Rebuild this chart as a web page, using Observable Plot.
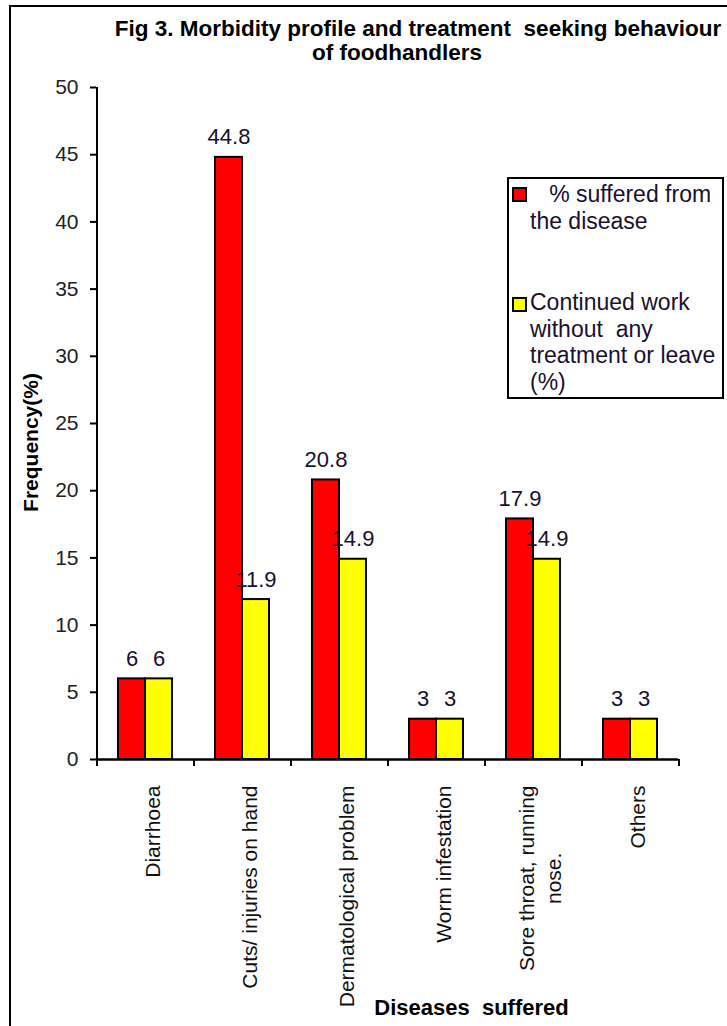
<!DOCTYPE html>
<html>
<head>
<meta charset="utf-8">
<script src="https://cdn.jsdelivr.net/npm/d3@7"></script>
<script src="https://cdn.jsdelivr.net/npm/@observablehq/plot@0.6"></script>
<style>
  html, body { margin: 0; padding: 0; background: #fff; }
  #wrap { position: relative; width: 727px; height: 1026px; overflow: hidden; background: #fff;
          font-family: "Liberation Sans", Arial, Helvetica, sans-serif; color: #000; }
  #frame { position: absolute; left: 9px; top: 5px; width: 740px; height: 1040px;
           border-left: 2px solid #000; border-top: 2px solid #000; }
  #chart { position: absolute; left: 0; top: 0; }
  .title { position: absolute; font-weight: bold; font-size: 22.5px; line-height: 26px;
           white-space: pre; transform: translateX(-50%); }
  #legend { position: absolute; left: 507px; top: 177px; width: 217px; height: 222px;
            box-sizing: border-box; border: 2px solid #000; background: #fff; }
  .sw { position: absolute; width: 15px; height: 15px; box-sizing: border-box; border: 2px solid #000; }
  .lt { position: absolute; left: 530px; font-size: 23px; line-height: 26.7px; white-space: pre; color: #1a1030; }
</style>
</head>
<body>
<div id="wrap">
  <div id="frame"></div>
  <div id="chart"></div>
</div>
<script>
// ---------- data ----------
const titleLines = ["Fig 3. Morbidity profile and treatment  seeking behaviour", "of foodhandlers"];
const categories = ["Diarrhoea", "Cuts/ injuries on hand", "Dermatological problem", "Worm infestation", "Sore throat, running\nnose.", "Others"];
const suffered  = [6, 44.8, 20.8, 3, 17.9, 3];
const continued = [6, 11.9, 14.9, 3, 14.9, 3];
const seriesNames = ["   % suffered from\nthe disease", "Continued work\nwithout  any\ntreatment or leave\n(%)"];
const seriesColors = ["#ff0000", "#ffff00"];
const yTicks = [0, 5, 10, 15, 20, 25, 30, 35, 40, 45, 50];
const yLabel = "Frequency(%)";
const xLabel = "Diseases  suffered";

// ---------- build ----------
const FONT = "'Liberation Sans', Arial, Helvetica, sans-serif";
const rows = categories.flatMap((c, i) => [
  {cat: c, s: 0, value: suffered[i]},
  {cat: c, s: 1, value: continued[i]}
]);
const rowsA = rows.filter(d => d.s === 0);
const rowsB = rows.filter(d => d.s === 1);

const W = 727, H = 1026, mL = 96, mR = 49, mT = 87, mB = 267;
const step = (W - mL - mR) / categories.length;
const half = step / 2;
const bandFrac = 54 / step;
const barW = 27;

const singleLine = categories.filter(c => !c.includes("\n"));
const multiLine = categories.filter(c => c.includes("\n"));
const cv = document.createElement("canvas").getContext("2d");
cv.font = "21px 'Liberation Sans', Arial";
const maxLineW = c => Math.max(...c.split("\n").map(s => cv.measureText(s).width));

const labelGap = 26;

const chart = Plot.plot({
  width: W, height: H,
  marginLeft: mL, marginRight: mR, marginTop: mT, marginBottom: mB,
  style: {fontFamily: FONT, background: "transparent", overflow: "visible", whiteSpace: "pre"},
  x: {domain: categories, paddingInner: 1 - bandFrac, paddingOuter: (1 - bandFrac) / 2, align: 0.5},
  y: {domain: [0, 50]},
  marks: [
    Plot.barY(rowsA, {x: "cat", y: "value", fill: seriesColors[0], stroke: "#000", strokeWidth: 2, insetRight: barW}),
    Plot.barY(rowsB, {x: "cat", y: "value", fill: seriesColors[1], stroke: "#000", strokeWidth: 2, insetLeft: barW}),
    Plot.text(rowsA, {x: "cat", y: "value", text: d => String(d.value), dx: -barW / 2, dy: -13,
      lineAnchor: "bottom", fontSize: 22, fill: "#1a1030"}),
    Plot.text(rowsB, {x: "cat", y: "value", text: d => String(d.value), dx: barW / 2, dy: -13,
      lineAnchor: "bottom", fontSize: 22, fill: "#1a1030"}),
    Plot.ruleY([0], {stroke: "#000", strokeWidth: 2.5}),
    Plot.ruleX([categories[0]], {x: d => d, dx: -half, stroke: "#000", strokeWidth: 2}),
    Plot.axisY(yTicks, {anchor: "left", tickSize: 6, tickPadding: 12, fontSize: 21, stroke: "#000",
      fill: "#222", strokeWidth: 2, label: null}),
    Plot.axisX(categories, {anchor: "bottom", tickSize: 7, strokeWidth: 2, stroke: "#000", dx: -half,
      tickFormat: () => "", label: null}),
    Plot.axisX([categories[categories.length - 1]], {anchor: "bottom", tickSize: 7, strokeWidth: 2, stroke: "#000",
      dx: half, tickFormat: () => "", label: null}),
    Plot.text(singleLine, {x: d => d, y: () => 0, rotate: -90, textAnchor: "end", lineAnchor: "middle",
      dx: 8, dy: labelGap, fontSize: 21, fill: "#111"}),
    Plot.text(multiLine, {x: d => d, y: () => 0, rotate: -90, textAnchor: "middle", lineAnchor: "middle",
      lineHeight: 1.28, dx: 5, dy: labelGap + maxLineW(multiLine[0]) / 2, fontSize: 21, fill: "#111"}),
    Plot.text([yLabel], {frameAnchor: "left", textAnchor: "middle", lineAnchor: "middle", rotate: -90,
      dx: -65, dy: 19, fontWeight: "bold", fontSize: 21, fill: "#000"}),
    Plot.text([xLabel], {frameAnchor: "bottom", textAnchor: "middle", lineAnchor: "bottom",
      dx: 84, dy: 255, fontWeight: "bold", fontSize: 22, fill: "#000"})
  ]
});
document.getElementById("chart").appendChild(chart);

// ---------- title ----------
const wrap = document.getElementById("wrap");
const titleCenters = [418, 397];
const titleTops = [16, 40];
titleLines.forEach((t, i) => {
  const d = document.createElement("div");
  d.className = "title";
  d.textContent = t;
  d.style.left = titleCenters[i] + "px";
  d.style.top = titleTops[i] + "px";
  wrap.appendChild(d);
});

// ---------- legend ----------
const legend = document.createElement("div");
legend.id = "legend";
wrap.appendChild(legend);
const swTops = [187, 297];
const txtTops = [181, 289];
seriesNames.forEach((name, i) => {
  const sw = document.createElement("div");
  sw.className = "sw";
  sw.style.left = "512px";
  sw.style.top = swTops[i] + "px";
  sw.style.background = seriesColors[i];
  wrap.appendChild(sw);
  const t = document.createElement("div");
  t.className = "lt";
  t.style.top = txtTops[i] + "px";
  t.textContent = name;
  wrap.appendChild(t);
});
</script>
</body>
</html>
